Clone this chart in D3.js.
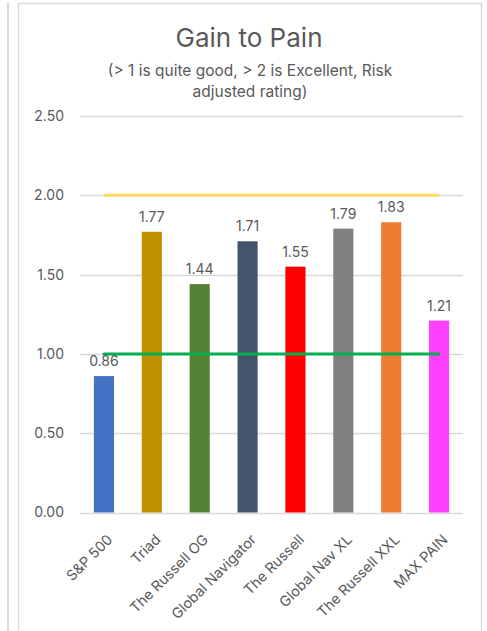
<!DOCTYPE html>
<html lang="en">
<head>
<meta charset="UTF-8">
<title>Gain to Pain</title>
<script src="https://d3js.org/d3.v7.min.js"></script>
<style>
    body { margin: 0; background: #fff; }
    svg { display: block; font-family: Inter, "Open Sans", sans-serif; }
</style>
</head>
<body>
<div id="chart"></div>
<script>
// data
const categories = ['S&P 500', 'Triad', 'The Russell OG', 'Global Navigator', 'The Russell', 'Global Nav XL', 'The Russell XXL', 'MAX PAIN'];
const values = [0.86, 1.77, 1.44, 1.71, 1.55, 1.79, 1.83, 1.21];
const barColors = ['#4472C4', '#BF9000', '#548235', '#44546A', '#FF0000', '#808080', '#ED7D31', '#FF40FF'];
const yTicks = [0, 0.5, 1, 1.5, 2, 2.5];
const goodLevel = 1;
const excellentLevel = 2;

const width = 487, height = 631;
const svg = d3.select('#chart').append('svg')
    .attr('width', width)
    .attr('height', height);

// outer frames
svg.append('line').attr('x1', 8).attr('x2', 8).attr('y1', 3).attr('y2', height)
    .attr('stroke', '#d9d9d9').attr('stroke-width', 2);
svg.append('rect').attr('x', 18.5).attr('y', 3.5).attr('width', 463).attr('height', height + 10)
    .attr('fill', 'none').attr('stroke', '#d9d9d9').attr('stroke-width', 1.5);

// titles
svg.append('text').attr('x', 249).attr('y', 47).attr('text-anchor', 'middle')
    .attr('font-size', 26).attr('fill', '#595959').text('Gain to Pain');
svg.append('text').attr('x', 250).attr('y', 76).attr('text-anchor', 'middle')
    .attr('font-size', 15.5).attr('fill', '#595959').text('(> 1 is quite good, > 2 is Excellent, Risk');
svg.append('text').attr('x', 250).attr('y', 97).attr('text-anchor', 'middle')
    .attr('font-size', 15.5).attr('fill', '#595959').text('adjusted rating)');

const x = d3.scaleBand().domain(categories).range([80, 463]).paddingInner(0.58).paddingOuter(0.29);
const y = d3.scaleLinear().domain([0, 2.5]).range([512.5, 116]);

// gridlines
svg.append('g').selectAll('line')
    .data(yTicks)
    .enter().append('line')
    .attr('x1', 80).attr('x2', 463)
    .attr('y1', d => Math.round(y(d)) + 0.5).attr('y2', d => Math.round(y(d)) + 0.5)
    .attr('stroke', '#d9d9d9').attr('stroke-width', 1.3);

// y axis labels
const yAxis = svg.append('g').attr('transform', 'translate(64,0)')
    .call(d3.axisLeft(y).tickValues(yTicks).tickFormat(d3.format('.2f')).tickSize(0).tickPadding(0));
yAxis.select('.domain').remove();
yAxis.selectAll('text').attr('font-size', 14).attr('fill', '#595959')
    .attr('font-family', 'Inter, sans-serif');

// bars
svg.append('g').selectAll('rect')
    .data(values)
    .enter().append('rect')
    .attr('x', (d, i) => x(categories[i]))
    .attr('width', x.bandwidth())
    .attr('y', d => y(d))
    .attr('height', d => y(0) - y(d))
    .attr('fill', (d, i) => barColors[i]);

// reference lines, drawn from first to last bar centre
const xStart = x(categories[0]) + x.bandwidth() / 2;
const xEnd = x(categories[categories.length - 1]) + x.bandwidth() / 2;
svg.append('line').attr('x1', xStart).attr('x2', xEnd)
    .attr('y1', y(excellentLevel)).attr('y2', y(excellentLevel))
    .attr('stroke', '#FFD966').attr('stroke-width', 3);
svg.append('line').attr('x1', xStart).attr('x2', xEnd)
    .attr('y1', y(goodLevel)).attr('y2', y(goodLevel))
    .attr('stroke', '#00B050').attr('stroke-width', 3).attr('stroke-linecap', 'round');

// value labels
svg.append('g').selectAll('text')
    .data(values)
    .enter().append('text')
    .attr('x', (d, i) => x(categories[i]) + x.bandwidth() / 2)
    .attr('y', d => y(d) - 10)
    .attr('text-anchor', 'middle')
    .attr('font-size', 14).attr('fill', '#595959')
    .text(d => d3.format('.2f')(d));

// category labels, rotated
svg.append('g').selectAll('text')
    .data(categories)
    .enter().append('text')
    .attr('transform', d => `translate(${x(d) + x.bandwidth() / 2 + 6},${537}) rotate(-45)`)
    .attr('text-anchor', 'end')
    .attr('dy', '0.35em')
    .attr('font-size', 14.3).attr('fill', '#595959')
    .text(d => d);
</script>
</body>
</html>
